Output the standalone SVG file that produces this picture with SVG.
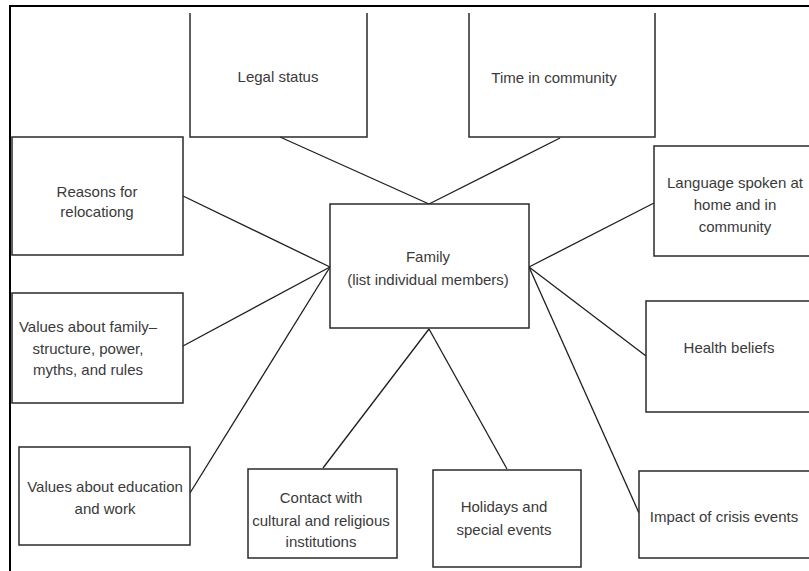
<svg xmlns="http://www.w3.org/2000/svg" width="809" height="571" viewBox="0 0 809 571">
  <style>
    .box { fill: #ffffff; stroke: #2a2a2a; stroke-width: 1.5; }
    .open { fill: none; stroke: #2a2a2a; stroke-width: 1.5; }
    .lbl { font-family: "Liberation Sans", Arial, sans-serif; font-size: 15px; fill: #3a3a3a; text-anchor: middle; }
    .link { stroke: #1e1e1e; stroke-width: 1.3; fill: none; }
  </style>
  <rect x="0" y="0" width="809" height="571" fill="#ffffff"/>
  <!-- outer frame (top and left edges) -->
  <path d="M10,571 V6 H809" fill="none" stroke="#000000" stroke-width="2"/>

  <g id="connectors">
    <line class="link" x1="280" y1="137" x2="429" y2="204"/>
    <line class="link" x1="560" y1="138" x2="429" y2="204"/>
    <line class="link" x1="183" y1="196" x2="330" y2="267"/>
    <line class="link" x1="183" y1="346" x2="330" y2="267"/>
    <line class="link" x1="190" y1="493" x2="330" y2="267"/>
    <line class="link" x1="323" y1="468" x2="429" y2="329"/>
    <line class="link" x1="507" y1="469" x2="429" y2="329"/>
    <line class="link" x1="654" y1="203" x2="529" y2="267"/>
    <line class="link" x1="646" y1="356" x2="529" y2="267"/>
    <line class="link" x1="639" y1="513" x2="529" y2="267"/>
  </g>

  <g id="legal-status">
    <path class="open" d="M190,13 V137 H367 V13"/>
    <text class="lbl" x="278" y="82">Legal status</text>
  </g>

  <g id="time-in-community">
    <path class="open" d="M469,13 V137 H655 V13"/>
    <text class="lbl" x="554" y="83">Time in community</text>
  </g>

  <g id="family">
    <rect class="box" x="330" y="204" width="199" height="124"/>
    <text class="lbl" x="428" y="262">Family</text>
    <text class="lbl" x="428" y="285">(list individual members)</text>
  </g>

  <g id="reasons">
    <rect class="box" x="12" y="137" width="171" height="118"/>
    <text class="lbl" x="97" y="197">Reasons for</text>
    <text class="lbl" x="97" y="217">relocationg</text>
  </g>

  <g id="values-family">
    <rect class="box" x="12" y="293" width="171" height="110"/>
    <text class="lbl" x="88" y="332">Values about family–</text>
    <text class="lbl" x="88" y="354">structure, power,</text>
    <text class="lbl" x="88" y="375">myths, and rules</text>
  </g>

  <g id="values-education">
    <rect class="box" x="19" y="447" width="171" height="98"/>
    <text class="lbl" x="105" y="492">Values about education</text>
    <text class="lbl" x="105" y="514">and work</text>
  </g>

  <g id="contact">
    <rect class="box" x="248" y="469" width="149" height="89"/>
    <text class="lbl" x="321" y="503">Contact with</text>
    <text class="lbl" x="321" y="526">cultural and religious</text>
    <text class="lbl" x="321" y="547">institutions</text>
  </g>

  <g id="holidays">
    <rect class="box" x="433" y="470" width="148" height="97"/>
    <text class="lbl" x="504" y="512">Holidays and</text>
    <text class="lbl" x="504" y="535">special events</text>
  </g>

  <g id="language">
    <rect class="box" x="654" y="146" width="170" height="110"/>
    <text class="lbl" x="735" y="188">Language spoken at</text>
    <text class="lbl" x="735" y="210">home and in</text>
    <text class="lbl" x="735" y="232">community</text>
  </g>

  <g id="health-beliefs">
    <rect class="box" x="646" y="301" width="180" height="111"/>
    <text class="lbl" x="729" y="353">Health beliefs</text>
  </g>

  <g id="crisis-events">
    <rect class="box" x="639" y="471" width="190" height="87"/>
    <text class="lbl" x="724" y="522">Impact of crisis events</text>
  </g>
</svg>
